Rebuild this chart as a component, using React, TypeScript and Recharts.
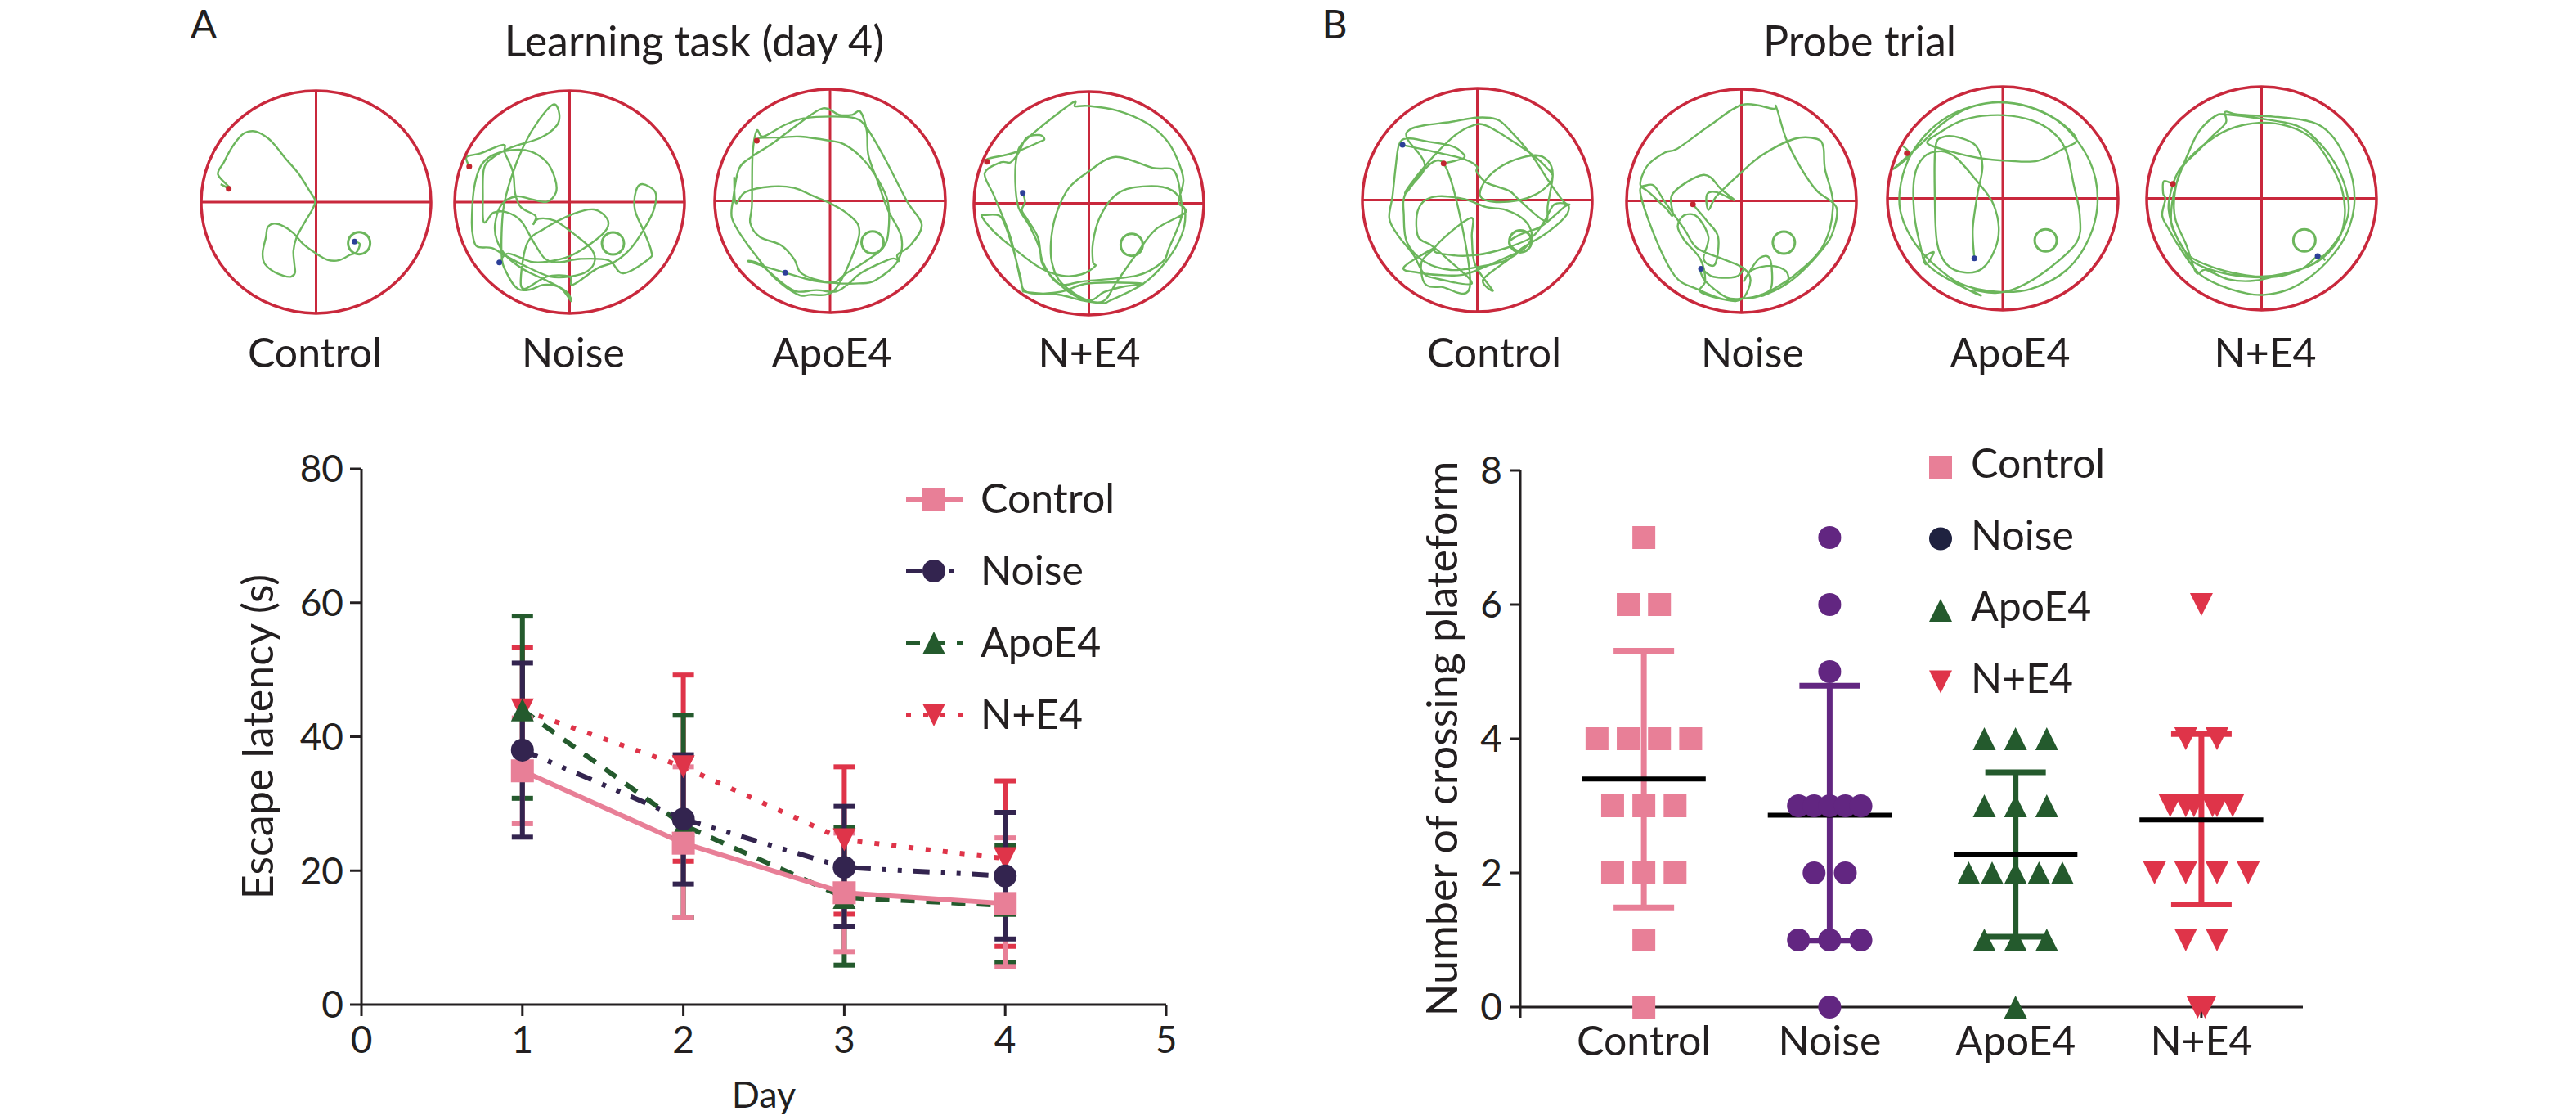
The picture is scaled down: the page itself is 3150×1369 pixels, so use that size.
import {
  ErrorBar,
  Label,
  Legend,
  Line,
  LineChart,
  ReferenceDot,
  ReferenceLine,
  Scatter,
  ScatterChart,
  XAxis,
  YAxis,
} from "recharts";

type Pt = [number, number];
type Kind = "square" | "circle" | "up" | "down";

const FONT = "Lato";
const INK = "#231f20";
const POOL_RED = "#c9283c";
const TRACK_GREEN = "#6cb65c";

// escape latency
const days = [1, 2, 3, 4];
const controlMean = [34.9, 24.1, 16.7, 15.1];
const controlLow = [27, 13, 7.9, 5.7];
const controlHigh = [42.8, 35.5, 25.6, 24.9];
const noiseMean = [38, 27.7, 20.5, 19.2];
const noiseLow = [25, 18, 11.6, 9.8];
const noiseHigh = [51, 37.3, 29.6, 28.7];
const apoMean = [44, 26.8, 16, 14.8];
const apoLow = [30.8, 13, 5.9, 6.3];
const apoHigh = [58, 43.2, 26.4, 23.8];
const bothMean = [44, 35.5, 24.6, 21.8];
const bothLow = [34.7, 21.4, 13.5, 8.7];
const bothHigh = [53.3, 49.2, 35.5, 33.4];

// platform crossings as [group position, crossings]
const categories = ["Control", "Noise", "ApoE4", "N+E4"];
const controlDots: Pt[] = [
  [1, 7], [0.916, 6], [1.084, 6], [0.748, 4], [0.916, 4], [1.084, 4], [1.252, 4],
  [0.832, 3], [1, 3], [1.168, 3], [0.832, 2], [1, 2], [1.168, 2], [1, 1], [1, 0],
];
const noiseDots: Pt[] = [
  [2, 7], [2, 6], [2, 5], [1.832, 3], [1.916, 3], [2, 3], [2.084, 3], [2.168, 3],
  [1.916, 2], [2.084, 2], [1.832, 1], [2, 1], [2.168, 1], [2, 0],
];
const apoDots: Pt[] = [
  [2.832, 4], [3, 4], [3.168, 4], [2.832, 3], [3, 3], [3.168, 3],
  [2.748, 2], [2.874, 2], [3, 2], [3.126, 2], [3.252, 2],
  [2.832, 1], [3, 1], [3.168, 1], [3, 0],
];
const bothDots: Pt[] = [
  [4, 6], [3.916, 4], [4.084, 4], [3.832, 3], [3.916, 3], [3.96, 3], [4.06, 3], [4.084, 3], [4.168, 3],
  [3.748, 2], [3.916, 2], [4.084, 2], [4.252, 2], [3.916, 1], [4.084, 1], [3.98, 0], [4.02, 0],
];
const crossingMean = [3.4, 2.86, 2.27, 2.79];
const crossingLow = [1.485, 0.99, 1.05, 1.53];
const crossingHigh = [5.31, 4.79, 3.5, 4.07];

// swim paths, in tracker units of each pool
const a1Track: Pt[] = [
  [100, 405], [130, 420], [92, 370], [110, 325], [135, 270], [165, 225], [185, 212], [210, 212], [245, 235],
  [270, 265], [300, 310], [340, 365], [375, 430], [392, 465], [385, 495], [360, 545], [335, 600], [325, 650],
  [328, 700], [330, 730], [318, 745], [295, 742], [262, 725], [235, 695], [230, 655], [240, 600], [245, 565],
  [265, 550], [295, 560], [325, 585], [355, 625], [395, 660], [430, 683], [465, 685], [500, 665], [520, 655],
  [530, 625], [514, 616],
];
const a2Track: Pt[] = [
  [870, 340], [862, 305], [905, 292], [975, 260], [980, 290], [1005, 360], [1012, 440], [1030, 490], [1075, 522],
  [1068, 552], [1085, 532], [1135, 540], [1190, 585], [1245, 640], [1258, 685], [1235, 725], [1180, 745],
  [1120, 745], [1050, 710], [985, 670], [940, 640], [895, 635], [882, 600], [878, 540], [885, 420], [905, 340],
  [940, 300], [1000, 280], [1060, 285], [1110, 325], [1135, 385], [1138, 435], [1110, 470], [1060, 460],
  [1015, 450], [970, 480], [950, 550], [955, 610], [985, 670], [1040, 720], [1110, 760], [1170, 800], [1185, 835],
  [1150, 785], [1100, 775], [1060, 792], [1020, 790], [985, 730], [970, 665], [975, 500], [1000, 380], [1040, 260],
  [1085, 170], [1130, 112], [1148, 145], [1140, 190], [1090, 235], [1000, 270], [940, 310], [915, 350], [912, 450],
  [915, 545], [945, 510], [985, 508], [1030, 540], [1070, 620], [1105, 680], [1150, 692], [1210, 680], [1300, 685],
  [1345, 733], [1425, 680], [1432, 650], [1410, 580], [1382, 500], [1385, 430], [1405, 405], [1445, 435],
  [1440, 500], [1410, 570], [1370, 640], [1320, 690], [1265, 715], [1190, 775], [1180, 745], [1110, 745], [1040, 790],
  [1030, 740], [1050, 620], [1100, 570], [1190, 515], [1255, 498], [1295, 530], [1295, 570], [1250, 620],
  [1180, 670], [1110, 690], [1060, 690], [990, 660], [963, 693],
];
const a3Track: Pt[] = [
  [165, 247], [175, 237], [240, 235], [300, 232], [390, 247], [435, 260], [490, 310], [540, 390], [570, 470],
  [572, 580], [555, 640], [500, 690], [440, 735], [405, 765], [345, 755], [300, 730], [280, 680], [240, 630],
  [175, 600], [145, 550], [150, 480], [152, 300], [165, 210], [185, 232], [250, 190], [310, 165], [400, 158],
  [470, 165], [505, 200], [560, 310], [630, 470], [675, 555], [640, 630], [600, 665], [605, 688], [580, 680],
  [490, 730], [450, 770], [410, 800], [350, 795], [290, 800], [245, 770], [175, 700], [140, 690], [253, 731],
  [340, 760], [420, 770], [480, 770], [530, 760], [600, 690], [612, 600], [570, 500], [540, 400], [510, 300],
  [505, 210], [485, 140], [460, 152], [420, 152], [370, 128], [300, 180], [210, 260], [150, 305], [110, 350],
  [92, 460], [88, 530], [120, 600], [170, 680], [220, 750], [290, 810], [330, 812], [405, 795], [470, 640],
  [480, 560], [440, 510], [390, 475], [340, 450], [280, 420], [210, 415], [130, 435], [100, 475], [95, 380],
];
const a4Track: Pt[] = [
  [877, 323], [880, 312], [960, 290], [1040, 250], [1055, 240], [1040, 225], [1000, 235], [975, 290], [950, 325],
  [920, 325], [870, 365], [900, 450], [950, 600], [985, 775], [1000, 800], [1100, 810], [1170, 830], [1235, 840],
  [1260, 830], [1360, 770], [1430, 690], [1480, 590], [1490, 500], [1470, 470], [1485, 390], [1465, 310],
  [1430, 240], [1370, 180], [1280, 135], [1190, 118], [1150, 120], [1140, 108], [1000, 240], [970, 300], [965, 400],
  [975, 490], [1010, 560], [1040, 640], [1050, 700], [1100, 770], [1160, 820], [1235, 835], [1280, 760], [1340, 660],
  [1400, 570], [1490, 510], [1480, 480], [1470, 400], [1450, 350], [1390, 345], [1275, 305], [1190, 360],
  [1130, 420], [1090, 520], [1075, 620], [1080, 700], [1110, 770], [1190, 830], [1240, 800], [1300, 780],
  [1360, 770], [1270, 765], [1180, 770], [1100, 800], [1000, 800], [980, 740], [960, 650], [935, 560], [915, 520],
  [870, 518], [862, 525], [900, 580], [960, 640], [1040, 710], [1110, 740], [1170, 735], [1212, 705], [1205, 690],
  [1205, 620], [1225, 530], [1270, 450], [1325, 418], [1420, 415], [1470, 450], [1480, 520], [1440, 640],
  [1420, 690], [1340, 740], [1180, 760], [1100, 770], [1050, 690], [1035, 600], [1000, 530], [985, 500], [995, 470],
  [988, 437],
];
const b1Track: Pt[] = [
  [318, 330], [380, 310], [370, 285], [340, 265], [270, 250], [205, 238], [180, 262], [170, 340], [160, 450],
  [150, 530], [175, 590], [225, 665], [255, 730], [290, 750], [405, 770], [330, 680], [280, 630], [240, 600],
  [235, 520], [255, 470], [300, 450], [380, 460], [450, 490], [510, 500], [570, 540], [590, 600], [555, 650],
  [520, 620], [555, 590], [620, 560], [690, 490], [705, 480], [660, 480], [630, 540], [590, 600], [510, 640],
  [420, 665], [340, 665], [290, 640], [400, 530], [405, 600], [415, 700], [470, 795], [440, 755], [520, 680],
  [560, 640], [630, 590], [690, 530], [705, 490], [685, 465], [640, 390], [590, 300], [520, 205], [480, 168],
  [420, 162], [340, 178], [260, 190], [215, 205], [205, 238], [260, 340], [200, 440], [195, 520], [205, 620],
  [260, 690], [340, 720], [420, 710], [500, 690], [540, 660], [400, 730], [330, 740], [240, 730], [195, 710],
  [290, 640], [250, 690], [260, 770], [310, 782], [400, 770], [318, 330], [200, 440], [260, 340], [350, 230],
  [410, 190], [450, 192], [520, 240], [600, 305], [640, 350], [655, 375], [640, 410], [600, 445], [550, 465],
  [470, 470], [430, 445], [455, 380], [520, 325], [600, 300], [640, 320], [655, 370], [640, 480], [630, 540],
  [548, 460], [520, 430], [450, 400], [420, 360], [420, 340], [370, 310], [191, 262],
];
const b2Track: Pt[] = [
  [1087, 480], [1130, 540], [1165, 600], [1155, 700], [1120, 680], [1135, 600], [1100, 525], [1060, 520], [1040, 560],
  [1060, 610], [1110, 680], [1125, 760], [1110, 800], [1190, 830], [1235, 825], [1280, 820], [1350, 790],
  [1420, 730], [1490, 640], [1520, 580], [1530, 490], [1470, 430], [1420, 345], [1375, 240], [1345, 125],
  [1335, 130], [1240, 115], [1140, 190], [1040, 275], [1000, 290], [945, 340], [925, 410], [965, 410], [1000, 470],
  [1060, 570], [1100, 640], [1180, 680], [1245, 715], [1265, 760], [1240, 825], [1190, 830], [1100, 790],
  [1030, 740], [960, 570], [925, 420], [1000, 490], [1025, 520], [1025, 440], [1120, 372], [1175, 425], [1215, 465],
  [1160, 435], [1130, 445], [1135, 500], [1160, 450], [1230, 370], [1300, 300], [1400, 240], [1470, 240],
  [1490, 270], [1495, 350], [1520, 480], [1490, 630], [1400, 740], [1300, 815], [1375, 770], [1375, 725],
  [1330, 705], [1270, 720], [1245, 760], [1290, 680], [1325, 680], [1330, 780], [1300, 810], [1240, 825], [1190, 820],
  [1125, 760], [1112, 716], [1150, 745], [1220, 745], [1245, 715],
];
const b3Track: Pt[] = [
  [365, 678], [360, 570], [375, 440], [390, 340], [370, 265], [320, 235], [270, 232], [245, 270], [243, 450],
  [250, 620], [280, 700], [335, 730], [390, 715], [430, 640], [440, 560], [420, 470], [370, 390], [310, 310],
  [265, 285], [210, 305], [180, 380], [180, 520], [200, 640], [215, 700], [240, 655], [210, 680], [250, 730],
  [340, 790], [385, 815], [360, 795], [430, 805], [500, 785], [590, 720], [680, 620], [690, 520], [670, 400],
  [650, 290], [620, 230], [560, 180], [480, 155], [390, 155], [320, 175], [260, 215], [220, 255], [290, 285],
  [380, 310], [470, 320], [560, 320], [640, 275], [680, 240], [620, 170], [530, 120], [440, 105], [360, 120],
  [280, 160], [210, 230], [160, 320], [135, 430], [140, 520], [180, 620], [240, 700], [320, 770], [430, 800],
  [540, 790], [650, 720], [720, 600], [745, 460], [720, 320], [640, 190], [540, 125], [440, 105], [350, 125],
  [270, 180], [190, 270], [115, 350], [165, 300], [145, 265],
];
const b4Track: Pt[] = [
  [978, 405], [950, 395], [948, 440], [955, 460], [945, 520], [965, 570], [1000, 640], [1060, 735], [1130, 780],
  [1200, 805], [1260, 812], [1340, 790], [1420, 730], [1490, 640], [1525, 560], [1540, 470], [1530, 370],
  [1490, 260], [1440, 195], [1380, 170], [1290, 158], [1180, 150], [1140, 140], [1142, 180], [1100, 230],
  [1050, 290], [1000, 350], [975, 420], [965, 500], [990, 600], [1030, 670], [1100, 710], [1180, 735], [1250, 745],
  [1340, 730], [1426, 690], [1490, 610], [1510, 520], [1500, 420], [1460, 320], [1410, 240], [1340, 195],
  [1250, 180], [1150, 205], [1070, 265], [1010, 340], [985, 430], [985, 530], [1020, 630], [1050, 730], [1080, 720],
  [1150, 755], [1230, 760], [1320, 735], [1410, 700], [1480, 620], [1520, 520], [1515, 430], [1480, 330],
  [1420, 240], [1360, 190], [1250, 165], [1145, 150], [1110, 155], [1060, 210], [1030, 280], [990, 400], [975, 480],
  [975, 560], [1010, 640], [1040, 690], [1110, 725], [1200, 745], [1300, 745], [1380, 715], [1426, 670], [1450, 685],
];

const latencyRows = days.map((day, i) => ({
  day,
  control: controlMean[i],
  controlErr: [controlMean[i] - controlLow[i], controlHigh[i] - controlMean[i]],
  noise: noiseMean[i],
  noiseErr: [noiseMean[i] - noiseLow[i], noiseHigh[i] - noiseMean[i]],
  apo: apoMean[i],
  apoErr: [apoMean[i] - apoLow[i], apoHigh[i] - apoMean[i]],
  both: bothMean[i],
  bothErr: [bothMean[i] - bothLow[i], bothHigh[i] - bothMean[i]],
}));

const lineSeries = [
  { key: "both", name: "N+E4", kind: "down" as Kind, color: "#df3449", dash: "6 15", width: 6 },
  { key: "apo", name: "ApoE4", kind: "up" as Kind, color: "#245a2d", dash: "17 14", width: 6 },
  { key: "control", name: "Control", kind: "square" as Kind, color: "#e87f97", dash: undefined, width: 6 },
  { key: "noise", name: "Noise", kind: "circle" as Kind, color: "#33244f", dash: "20 14 5 14 5 14", width: 6 },
];
const legendOrder = ["control", "noise", "apo", "both"];

const dotSeries = [
  { name: "Control", kind: "square" as Kind, color: "#e87f97", legend: "#e87f97", dots: controlDots },
  { name: "Noise", kind: "circle" as Kind, color: "#622681", legend: "#1f2240", dots: noiseDots },
  { name: "ApoE4", kind: "up" as Kind, color: "#245a2d", legend: "#245a2d", dots: apoDots },
  { name: "N+E4", kind: "down" as Kind, color: "#df3449", legend: "#df3449", dots: bothDots },
];

// curve that goes through every read point (recharts takes a d3 style factory)
const throughPoints = (ctx: any) => {
  let pts: Pt[] = [];
  return {
    areaStart() {},
    areaEnd() {},
    lineStart() {
      pts = [];
    },
    point(x: number, y: number) {
      pts.push([x, y]);
    },
    lineEnd() {
      if (!pts.length) return;
      ctx.moveTo(pts[0][0], pts[0][1]);
      for (let i = 0; i < pts.length - 1; i++) {
        const p0 = pts[i - 1] ?? pts[i];
        const p1 = pts[i];
        const p2 = pts[i + 1];
        const p3 = pts[i + 2] ?? p2;
        ctx.bezierCurveTo(
          p1[0] + (p2[0] - p0[0]) / 6,
          p1[1] + (p2[1] - p0[1]) / 6,
          p2[0] - (p3[0] - p1[0]) / 6,
          p2[1] - (p3[1] - p1[1]) / 6,
          p2[0],
          p2[1],
        );
      }
    },
  };
};

function Marker({ kind, cx, cy, color, size = 14 }: { kind: Kind; cx: number; cy: number; color: string; size?: number }) {
  if (kind === "square") return <rect x={cx - size} y={cy - size} width={size * 2} height={size * 2} fill={color} />;
  if (kind === "circle") return <circle cx={cx} cy={cy} r={size} fill={color} />;
  const tip = kind === "up" ? -size : size;
  return <polygon points={`${cx - size},${cy - tip} ${cx + size},${cy - tip} ${cx},${cy + tip}`} fill={color} />;
}

function Caption({ x, y, children, size = 50 }: { x: number; y: number; children: string; size?: number }) {
  return (
    <div
      style={{
        position: "absolute",
        left: x - 300,
        top: y - size,
        width: 600,
        height: size * 1.3,
        lineHeight: `${size * 1.3}px`,
        textAlign: "center",
        fontFamily: FONT,
        fontSize: size,
        color: INK,
      }}
    >
      {children}
    </div>
  );
}

type MazeProps = {
  box: [number, number, number, number];
  bounds: [number, number, number, number];
  track: Pt[];
  start: Pt;
  end: Pt;
  platform: Pt;
};

// one water maze pool, drawn in its own tracker units
function Maze({ box, bounds, track, start, end, platform }: MazeProps) {
  const [left, right, top, bottom] = box;
  const [xMin, xMax, yMin, yMax] = bounds;
  const pad = 4;
  const rows = track.map(([x, y]) => ({ x, y }));
  const poolX = (xMin + xMax) / 2;
  const poolY = (yMin + yMax) / 2;
  return (
    <div style={{ position: "absolute", left: left - pad, top: top - pad }}>
      <LineChart
        width={right - left + pad * 2}
        height={bottom - top + pad * 2}
        data={rows}
        margin={{ top: pad, right: pad, bottom: pad, left: pad }}
      >
        <XAxis type="number" dataKey="x" domain={[xMin, xMax]} hide />
        <YAxis type="number" domain={[yMin, yMax]} reversed hide />
        <ReferenceLine x={poolX} stroke={POOL_RED} strokeWidth={3} />
        <ReferenceLine y={poolY} stroke={POOL_RED} strokeWidth={3} />
        <ReferenceDot
          x={poolX}
          y={poolY}
          shape={(p: any) => (
            <ellipse
              cx={p.cx}
              cy={p.cy}
              rx={(right - left) / 2}
              ry={(bottom - top) / 2}
              fill="none"
              stroke={POOL_RED}
              strokeWidth={3.5}
            />
          )}
        />
        <Line
          dataKey="y"
          type={throughPoints as any}
          stroke={TRACK_GREEN}
          strokeWidth={2.4}
          dot={false}
          activeDot={false}
          isAnimationActive={false}
        />
        <ReferenceDot x={platform[0]} y={platform[1]} r={13.5} fill="none" stroke={TRACK_GREEN} strokeWidth={3} />
        <ReferenceDot x={start[0]} y={start[1]} r={3.5} fill="#c3252f" stroke="none" />
        <ReferenceDot x={end[0]} y={end[1]} r={3.5} fill="#2c3f98" stroke="none" />
      </LineChart>
    </div>
  );
}

function LatencyLegend() {
  return (
    <svg width={380} height={360}>
      {legendOrder.map((key, i) => {
        const s = lineSeries.find((l) => l.key === key)!;
        const y = 40 + i * 88;
        return (
          <g key={key}>
            <line x1={8} x2={78} y1={y} y2={y} stroke={s.color} strokeWidth={s.width} strokeDasharray={s.dash} />
            <Marker kind={s.kind} cx={42} cy={y} color={s.color} />
            <text x={99} y={y + 17} fontFamily={FONT} fontSize={50} fill={INK}>
              {s.name}
            </text>
          </g>
        );
      })}
    </svg>
  );
}

function CrossingLegend() {
  return (
    <svg width={320} height={350}>
      {dotSeries.map((s, i) => {
        const y = 41 + i * 87.5;
        return (
          <g key={s.name}>
            <Marker kind={s.kind} cx={43} cy={y} color={s.legend} />
            <text x={80} y={y + 13} fontFamily={FONT} fontSize={50} fill={INK}>
              {s.name}
            </text>
          </g>
        );
      })}
    </svg>
  );
}

export default function App() {
  const axisStyle = { stroke: INK, strokeWidth: 3 };
  const tickStyle = { fill: INK, fontSize: 46, fontFamily: FONT };
  return (
    <div style={{ position: "absolute", left: 0, top: 0, width: 3150, height: 1369, background: "#fff", overflow: "hidden" }}>
      <Caption x={249} y={46} size={48}>A</Caption>
      <Caption x={1632} y={46} size={48}>B</Caption>
      <Caption x={849} y={68} size={52}>Learning task (day 4)</Caption>
      <Caption x={2274} y={68} size={52}>Probe trial</Caption>

      <Maze box={[246, 527, 111, 383]} bounds={[40, 750, 62, 880]} track={a1Track} start={[125, 422]} end={[514, 616]} platform={[528, 622]} />
      <Maze box={[556, 837, 111, 383]} bounds={[825, 1535, 62, 880]} track={a2Track} start={[870, 340]} end={[963, 693]} platform={[1314, 623]} />
      <Maze box={[874, 1156, 109, 382]} bounds={[35, 748, 58, 877]} track={a3Track} start={[165, 247]} end={[253, 731]} platform={[523, 620]} />
      <Maze box={[1191, 1472, 112, 385]} bounds={[837, 1548, 66, 884]} track={a4Track} start={[877, 323]} end={[988, 437]} platform={[1325, 627]} />
      <Maze box={[1666, 1947, 108, 381]} bounds={[67, 777, 55, 873]} track={b1Track} start={[318, 330]} end={[191, 262]} platform={[555, 615]} />
      <Maze box={[1989, 2270, 109, 382]} bounds={[882, 1592, 58, 876]} track={b2Track} start={[1087, 480]} end={[1112, 716]} platform={[1368, 620]} />
      <Maze box={[2308, 2590, 106, 379]} bounds={[97, 808, 48, 868]} track={b3Track} start={[157, 292]} end={[365, 678]} platform={[585, 612]} />
      <Maze box={[2625, 2906, 106, 379]} bounds={[897, 1608, 48, 868]} track={b4Track} start={[978, 405]} end={[1426, 670]} platform={[1385, 612]} />

      {categories.map((name, i) => (
        <Caption key={`a${name}`} x={[385, 701, 1017, 1332][i]} y={448}>{name}</Caption>
      ))}
      {categories.map((name, i) => (
        <Caption key={`b${name}`} x={[1827, 2143, 2458, 2770][i]} y={448}>{name}</Caption>
      ))}

      <div style={{ position: "absolute", left: 270, top: 540 }}>
        <LineChart width={1200} height={829} data={latencyRows} margin={{ top: 33, right: 44, bottom: 0, left: 0 }}>
          <XAxis
            type="number"
            dataKey="day"
            domain={[0, 5]}
            ticks={[0, 1, 2, 3, 4, 5]}
            height={141}
            axisLine={axisStyle}
            tickLine={axisStyle}
            tick={tickStyle}
            tickSize={14}
            tickMargin={12}
          >
            <Label value="Day" position="insideBottom" offset={15} style={{ ...tickStyle, fontSize: 45 }} />
          </XAxis>
          <YAxis
            type="number"
            domain={[0, 80]}
            ticks={[0, 20, 40, 60, 80]}
            width={172}
            axisLine={axisStyle}
            tickLine={axisStyle}
            tick={tickStyle}
            tickSize={14}
            tickMargin={8}
          >
            <Label
              value="Escape latency (s)"
              angle={-90}
              position="insideLeft"
              offset={46}
              style={{ ...tickStyle, fontSize: 52, textAnchor: "middle" }}
            />
          </YAxis>
          <Legend
            layout="vertical"
            align="center"
            verticalAlign="middle"
            content={() => <LatencyLegend />}
            wrapperStyle={{ left: 830, top: 30, width: 380, height: 360 }}
          />
          {lineSeries.map((s) => (
            <Line
              key={s.key}
              dataKey={s.key}
              name={s.name}
              stroke={s.color}
              strokeWidth={s.width}
              strokeDasharray={s.dash}
              dot={(p: any) => <Marker key={p.index} kind={s.kind} cx={p.cx} cy={p.cy} color={s.color} />}
              activeDot={false}
              isAnimationActive={false}
            >
              <ErrorBar dataKey={`${s.key}Err`} direction="y" width={13} strokeWidth={6} stroke={s.color} />
            </Line>
          ))}
        </LineChart>
      </div>

      <div style={{ position: "absolute", left: 1700, top: 530 }}>
        <ScatterChart width={1130} height={791} margin={{ top: 45, right: 14, bottom: 0, left: 0 }}>
          <XAxis
            type="number"
            dataKey="x"
            domain={[0.335, 4.546]}
            ticks={[0.335, 1, 2, 3, 4]}
            tickFormatter={(v: number) => categories[v - 1] ?? ""}
            interval={0}
            height={90}
            axisLine={axisStyle}
            tickLine={axisStyle}
            tick={{ ...tickStyle, fontSize: 50 }}
            tickSize={13}
            tickMargin={10}
          />
          <YAxis
            type="number"
            dataKey="y"
            domain={[0, 8]}
            ticks={[0, 2, 4, 6, 8]}
            width={159}
            axisLine={axisStyle}
            tickLine={axisStyle}
            tick={tickStyle}
            tickSize={12}
            tickMargin={10}
          >
            <Label
              value="Number of crossing plateform"
              angle={-90}
              position="insideLeft"
              offset={64}
              style={{ ...tickStyle, fontSize: 52, textAnchor: "middle" }}
            />
          </YAxis>
          <Legend
            layout="vertical"
            align="center"
            verticalAlign="middle"
            content={() => <CrossingLegend />}
            wrapperStyle={{ left: 630, top: 0, width: 320, height: 350 }}
          />
          {dotSeries.map((s, i) => (
            <Scatter
              key={`${s.name}-sd`}
              name={`${s.name} mean`}
              data={[
                {
                  x: i + 1,
                  y: crossingMean[i],
                  sd: [crossingMean[i] - crossingLow[i], crossingHigh[i] - crossingMean[i]],
                  span: 0.333,
                },
              ]}
              shape={() => <g />}
              isAnimationActive={false}
            >
              <ErrorBar dataKey="sd" direction="y" width={37} strokeWidth={7} stroke={s.color} />
              <ErrorBar dataKey="span" direction="x" width={0} strokeWidth={6} stroke="#000" />
            </Scatter>
          ))}
          {dotSeries.map((s) => (
            <Scatter
              key={s.name}
              name={s.name}
              data={s.dots.map(([x, y]) => ({ x, y }))}
              shape={(p: any) => <Marker kind={s.kind} cx={p.cx} cy={p.cy} color={s.color} />}
              isAnimationActive={false}
            />
          ))}
        </ScatterChart>
      </div>
    </div>
  );
}
